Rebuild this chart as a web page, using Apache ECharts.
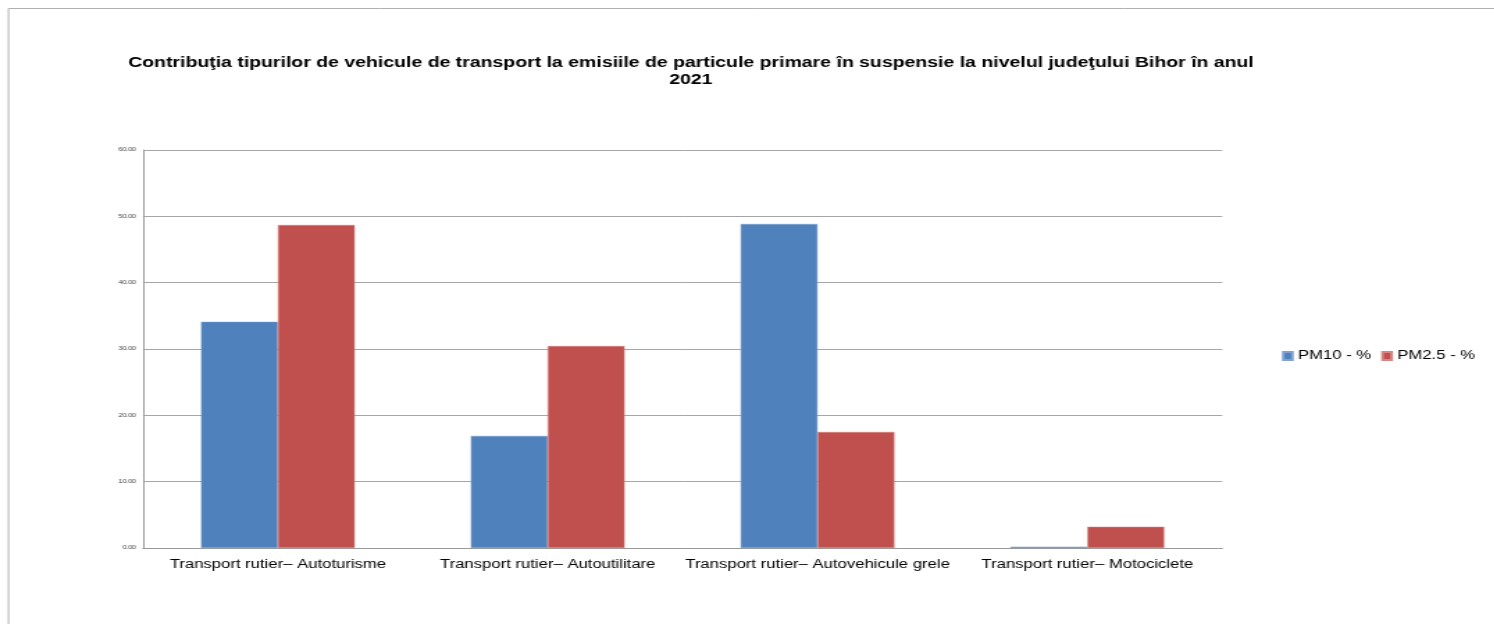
<!DOCTYPE html>
<html><head><meta charset="utf-8">
<script src="https://cdn.jsdelivr.net/npm/echarts@6/dist/echarts.min.js"></script>
<style>html,body{margin:0;padding:0;background:#fff;overflow:hidden}
#wrap{width:1494px;height:624px;overflow:hidden;position:relative}
#c{height:624px;transform-origin:0 0;position:absolute;left:0;top:0}</style>
</head><body><div id="wrap"><div id="c"></div></div>
<script>
const categories = ["Transport rutier– Autoturisme","Transport rutier– Autoutilitare","Transport rutier– Autovehicule grele","Transport rutier– Motociclete"];
const pm10 = [34.1, 16.9, 48.85, 0.2];
const pm25 = [48.7, 30.45, 17.5, 3.2];
const seriesNames = ["PM10 - %", "PM2.5 - %"];
const titleText = "Contribuţia tipurilor de vehicule de transport la emisiile de particule primare în suspensie la nivelul judeţului Bihor în anul\n2021";

const S = 1.39; // horizontal stretch of the reference rendering
const el = document.getElementById('c');
el.style.width = (1494 / S) + 'px';
el.style.transform = 'scaleX(' + S + ')';
const X = v => v / S;

const chart = echarts.init(el, null, {renderer:'canvas'});
chart.setOption({
  animation:false,
  backgroundColor:'#fff',
  graphic:[{type:'rect', shape:{x:X(8.5),y:8.5,width:1600,height:700}, style:{fill:'none', stroke:'#b0b0b0', lineWidth:1}}],
  title:{text:titleText, left:X(684), top:50, textAlign:'center',
    textStyle:{fontFamily:'Liberation Sans', fontWeight:'bold', fontSize:14, color:'#000', lineHeight:17}},
  legend:{orient:'horizontal', left:X(1275), top:345, width:X(210), itemWidth:6.5, itemHeight:8, itemGap:X(10),
    icon:'rect', textStyle:{fontFamily:'Liberation Sans', fontSize:12, color:'#000', padding:[0,0,0,-1]}},
  grid:{left:X(143), right:X(272), top:150, bottom:76, containLabel:false},
  xAxis:{type:'category', data:categories,
    axisLine:{lineStyle:{color:'#999'}}, axisTick:{show:false},
    axisLabel:{interval:0, hideOverlap:false, fontFamily:'Liberation Sans', fontSize:12, color:'#000', margin:11}},
  yAxis:{type:'value', min:0, max:60, interval:10,
    axisLine:{show:true, lineStyle:{color:'#999'}}, axisTick:{show:false},
    splitLine:{lineStyle:{color:'#a6a6a6'}},
    axisLabel:{fontFamily:'Liberation Sans', fontSize:5, color:'#333', margin:5, formatter:v=>v.toFixed(2)}},
  series:[
    {name:seriesNames[0], type:'bar', data:pm10, barGap:'0%', barCategoryGap:'43%',
      itemStyle:{color:'#4F81BD', borderColor:'#7fa2cf', borderWidth:0.5}},
    {name:seriesNames[1], type:'bar', data:pm25, barGap:'0%', barCategoryGap:'43%',
      itemStyle:{color:'#C0504D', borderColor:'#d68784', borderWidth:0.5}}
  ]
});
</script></body></html>
